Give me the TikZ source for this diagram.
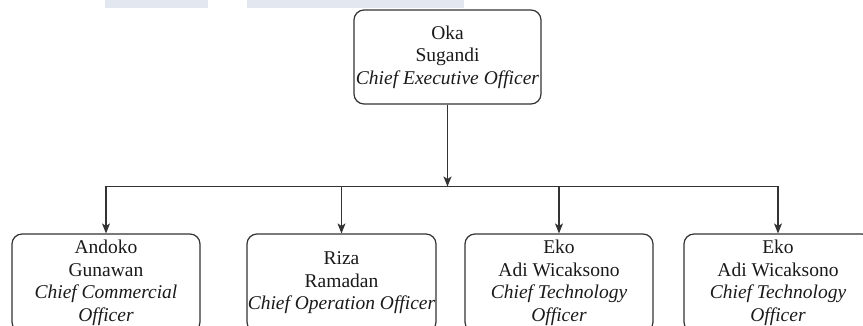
\documentclass[tikz,border=0pt]{standalone}
\usepackage{fontspec}
\setmainfont{Liberation Serif}
\usetikzlibrary{arrows.meta}
\definecolor{wm}{HTML}{E3E8F0}
\definecolor{edge}{HTML}{333333}
\definecolor{ink}{HTML}{1A1A1A}
\tikzset{
  person/.style={draw=edge, line width=1.2pt, rounded corners=10pt, fill=white,
    minimum width=188pt, align=center, text=ink, inner sep=0pt,
    font=\fontsize{19.5}{22.5}\selectfont},
  conn/.style={draw=edge, line width=1.2pt},
  arr/.style={conn, -{Stealth[length=10pt,width=8pt,inset=2.5pt]}},
  wmbox/.style={fill=wm, draw=none}
}
\begin{document}
\begin{tikzpicture}[x=1pt,y=-1pt]
\useasboundingbox (0,0) rectangle (863,326);
\fill[white] (0,0) rectangle (863,326);
\path[wmbox] (105,0) rectangle (208,8.5);
\path[wmbox] (247,0) rectangle (464,8.5);

\node[person, minimum width=187pt, minimum height=94pt] (ceo) at (447.5,57)
  {Oka\\Sugandi\\\textit{Chief Executive Officer}};

\node[person, minimum height=98pt] (cco) at (106,283)
  {Andoko\\Gunawan\\\textit{Chief Commercial}\\\textit{Officer}};
\node[person, minimum width=189pt, minimum height=98pt] (coo) at (341.5,283)
  {Riza\\Ramadan\\\textit{Chief Operation Officer}};
\node[person, minimum height=98pt] (cto) at (559,283)
  {Eko\\Adi Wicaksono\\\textit{Chief Technology}\\\textit{Officer}};
\node[person, minimum height=98pt] (cto2) at (778,283)
  {Eko\\Adi Wicaksono\\\textit{Chief Technology}\\\textit{Officer}};

\coordinate (busL) at (cco.north |- 0,186.5);
\coordinate (busR) at (cto2.north |- 0,186.5);
\coordinate (busJ) at (ceo.south |- 0,186.5);

\draw[arr] (ceo.south) -- (busJ);
\draw[conn] (busL) -- (busR);
\draw[arr] (busL) -- (cco.north);
\draw[arr] (coo.north |- busL) -- (coo.north);
\draw[arr] (cto.north |- busL) -- (cto.north);
\draw[arr] (busR) -- (cto2.north);
\end{tikzpicture}
\end{document}
